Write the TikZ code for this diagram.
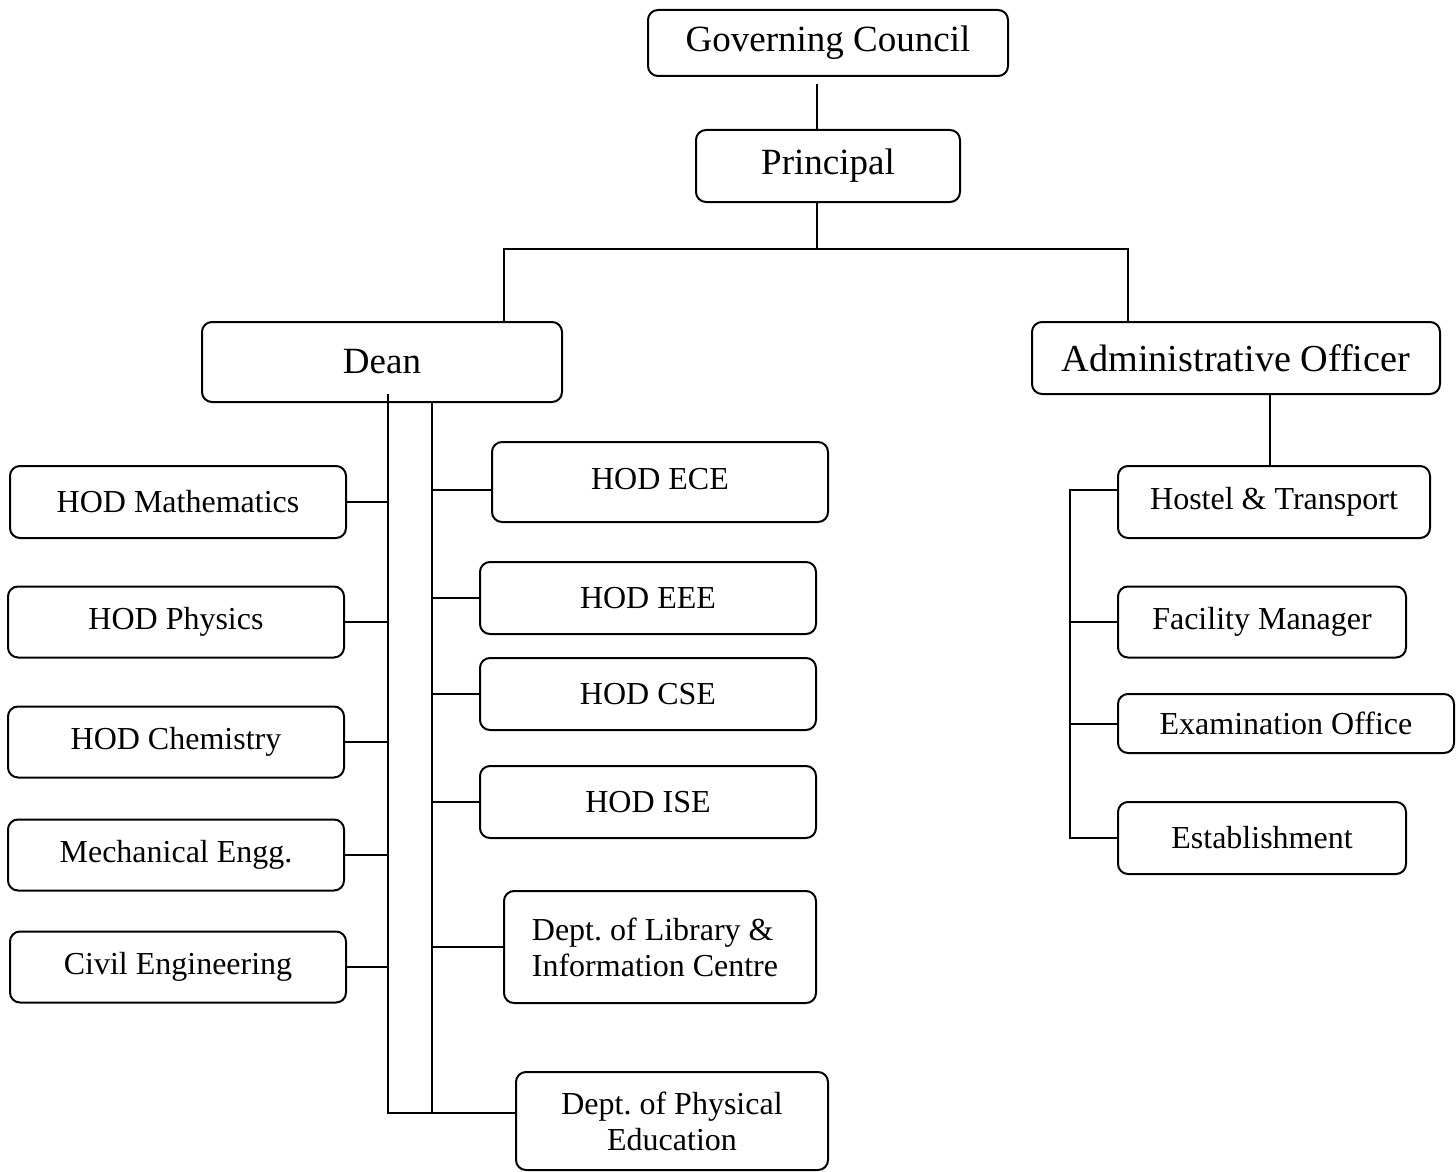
\documentclass[tikz,border=0pt]{standalone}
\usepackage{fontspec}
\setmainfont{Liberation Serif}
\frenchspacing

\begin{document}
\begin{tikzpicture}[x=0.5pt,y=-0.5pt]
        % Define the style for the nodes
        \tikzset{every node/.style={draw,rounded corners=5pt,line width=1pt,inner sep=0pt},
                 big/.style={font=\fontsize{18.5}{22}\selectfont},
                 small/.style={font=\fontsize{16}{18}\selectfont},
                 every path/.style={line width=1pt}}

        \useasboundingbox (0,0) rectangle (1456,1172);

        % Nodes
        \node[big,minimum width=180pt,minimum height=33pt] (gc) at (828,43) {\raisebox{-1.5pt}{Governing Council}};
        \node[big,minimum width=132pt,minimum height=36pt] (prin) at (828,166) {Principal};
        \node[big,minimum width=180pt,minimum height=40pt] (dean) at (382,362) {Dean};
        \node[font=\fontsize{19.1}{22}\selectfont,minimum width=204pt,minimum height=36pt] (ao) at (1236,358) {Administrative Officer};

        \node[small,minimum width=168pt,minimum height=36pt] (math) at (178,502) {HOD Mathematics};
        \node[small,minimum width=168pt,minimum height=35.5pt] (phys) at (176,622) {HOD Physics};
        \node[small,minimum width=168pt,minimum height=35.5pt] (chem) at (176,742) {HOD Chemistry};
        \node[small,minimum width=168pt,minimum height=35.5pt] (mech) at (176,855) {Mechanical Engg.};
        \node[small,minimum width=168pt,minimum height=35.5pt] (civil) at (178,967) {Civil Engineering};

        \node[small,minimum width=168pt,minimum height=40pt] (ece) at (660,482) {\raisebox{3.5pt}{HOD ECE}};
        \node[small,minimum width=168pt,minimum height=36pt] (eee) at (648,598) {HOD EEE};
        \node[small,minimum width=168pt,minimum height=36pt] (cse) at (648,694) {HOD CSE};
        \node[small,minimum width=168pt,minimum height=36pt] (ise) at (648,802) {HOD ISE};
        \node[small,align=left,minimum width=156pt,minimum height=56pt] (lib) at (660,947) {\hspace*{-5pt}Dept. of Library \&\\\hspace*{-5pt}Information Centre};
        \node[small,align=center,minimum width=156pt,minimum height=49pt] (phed) at (672,1121) {Dept. of Physical\\Education};

        \node[small,minimum width=156pt,minimum height=36pt] (host) at (1274,502) {Hostel \& Transport};
        \node[small,minimum width=144pt,minimum height=35.5pt] (fac) at (1262,622) {Facility Manager};
        \node[small,minimum width=168pt,minimum height=29.5pt] (exam) at (1286,723.5) {Examination Office};
        \node[small,minimum width=144pt,minimum height=36pt] (est) at (1262,838) {Establishment};

        % Junctions
        \coordinate (top) at (817,249);
        \coordinate (dl) at (504,249);
        \coordinate (ar) at (1128,249);
        \coordinate (sl) at (388,1113);
        \coordinate (sr) at (432,1113);
        \coordinate (adm) at (1270,430);
        \coordinate (br) at (1070,838);

        % Edges
        \draw ([yshift=-3.5pt]gc.south -| top) -- (prin.north -| top);
        \draw (prin.south -| top) -- (top);
        \draw (dean.north -| dl) -- (dl) -- (ar) -- (ao.north -| ar);
        \draw ([yshift=4.5pt]dean.south -| sl) -- (sl) -- ([yshift=4pt]phed.west);
        \draw (dean.south -| sr) -- (sr);
        \foreach \n in {math,phys,chem,mech,civil}
            \draw (\n.east) -- (\n.east -| sl);
        \draw ([yshift=-4pt]ece.west) -- ([yshift=-4pt]ece.west -| sr);
        \foreach \n in {eee,cse,ise,lib}
            \draw (\n.west) -- (\n.west -| sr);
        \draw (ao.south -| adm) -- (host.north -| adm);
        \draw ([yshift=6pt]host.west) -| (br) -- (est.west);
        \foreach \n in {fac,exam}
            \draw (\n.west) -- (\n.west -| br);
    \end{tikzpicture}
\end{document}
